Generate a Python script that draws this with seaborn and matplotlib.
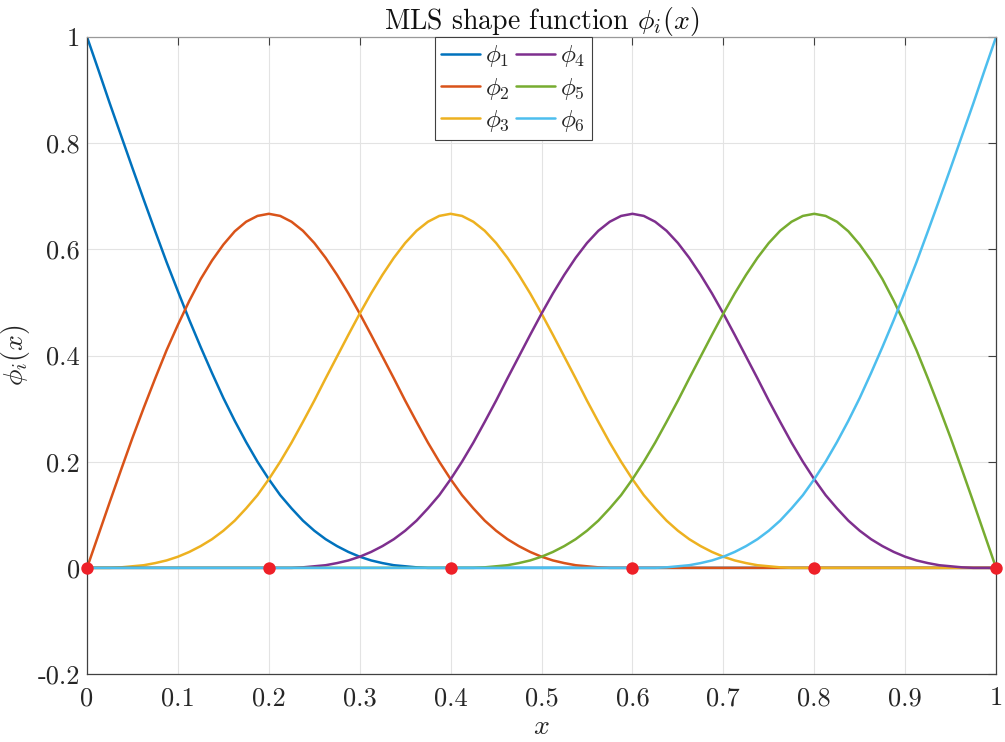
import numpy as np
import matplotlib
matplotlib.use("Agg")
import matplotlib.pyplot as plt
import seaborn as sns

# ============================================
# Data (step 0.0125 in x)
# ============================================
x = np.round(np.arange(81) * 0.0125, 4)

phi1 = [1.000, 0.938, 0.875, 0.814, 0.753, 0.693, 0.634, 0.576, 0.521, 0.467,
        0.416, 0.367, 0.320, 0.277, 0.237, 0.200, 0.167, 0.137, 0.112, 0.089,
        0.070, 0.054, 0.041, 0.030, 0.021, 0.014, 0.009, 0.005, 0.003, 0.001,
        0.000, 0.000, 0.000, 0.000, 0.000, 0.000, 0.000, 0.000, 0.000, 0.000,
        0.000, 0.000, 0.000, 0.000, 0.000, 0.000, 0.000, 0.000, 0.000, 0.000,
        0.000, 0.000, 0.000, 0.000, 0.000, 0.000, 0.000, 0.000, 0.000, 0.000,
        0.000, 0.000, 0.000, 0.000, 0.000, 0.000, 0.000, 0.000, 0.000, 0.000,
        0.000, 0.000, 0.000, 0.000, 0.000, 0.000, 0.000, 0.000, 0.000, 0.000,
        0.000]
phi2 = [0.000, 0.062, 0.124, 0.185, 0.245, 0.302, 0.357, 0.410, 0.458, 0.503,
        0.544, 0.579, 0.609, 0.634, 0.652, 0.663, 0.667, 0.663, 0.652, 0.635,
        0.612, 0.584, 0.552, 0.517, 0.479, 0.439, 0.398, 0.357, 0.315, 0.275,
        0.236, 0.200, 0.167, 0.137, 0.112, 0.089, 0.070, 0.054, 0.041, 0.030,
        0.021, 0.014, 0.009, 0.005, 0.003, 0.001, 0.000, 0.000, 0.000, 0.000,
        0.000, 0.000, 0.000, 0.000, 0.000, 0.000, 0.000, 0.000, 0.000, 0.000,
        0.000, 0.000, 0.000, 0.000, 0.000, 0.000, 0.000, 0.000, 0.000, 0.000,
        0.000, 0.000, 0.000, 0.000, 0.000, 0.000, 0.000, 0.000, 0.000, 0.000,
        0.000]
phi3 = [0.000, 0.000, 0.000, 0.001, 0.003, 0.005, 0.009, 0.014, 0.021, 0.030,
        0.041, 0.054, 0.070, 0.089, 0.112, 0.137, 0.167, 0.200, 0.236, 0.275,
        0.315, 0.357, 0.398, 0.439, 0.479, 0.517, 0.552, 0.584, 0.612, 0.635,
        0.652, 0.663, 0.667, 0.663, 0.652, 0.635, 0.612, 0.584, 0.552, 0.517,
        0.479, 0.439, 0.398, 0.357, 0.315, 0.275, 0.236, 0.200, 0.167, 0.137,
        0.112, 0.089, 0.070, 0.054, 0.041, 0.030, 0.021, 0.014, 0.009, 0.005,
        0.003, 0.001, 0.000, 0.000, 0.000, 0.000, 0.000, 0.000, 0.000, 0.000,
        0.000, 0.000, 0.000, 0.000, 0.000, 0.000, 0.000, 0.000, 0.000, 0.000,
        0.000]
phi4 = [0.000, 0.000, 0.000, 0.000, 0.000, 0.000, 0.000, 0.000, 0.000, 0.000,
        0.000, 0.000, 0.000, 0.000, 0.000, 0.000, 0.000, 0.000, 0.000, 0.001,
        0.003, 0.005, 0.009, 0.014, 0.021, 0.030, 0.041, 0.054, 0.070, 0.089,
        0.112, 0.137, 0.167, 0.200, 0.236, 0.275, 0.315, 0.357, 0.398, 0.439,
        0.479, 0.517, 0.552, 0.584, 0.612, 0.635, 0.652, 0.663, 0.667, 0.663,
        0.652, 0.635, 0.612, 0.584, 0.552, 0.517, 0.479, 0.439, 0.398, 0.357,
        0.315, 0.275, 0.236, 0.200, 0.167, 0.137, 0.112, 0.089, 0.070, 0.054,
        0.041, 0.030, 0.021, 0.014, 0.009, 0.005, 0.003, 0.001, 0.000, 0.000,
        0.000]
phi5 = [0.000, 0.000, 0.000, 0.000, 0.000, 0.000, 0.000, 0.000, 0.000, 0.000,
        0.000, 0.000, 0.000, 0.000, 0.000, 0.000, 0.000, 0.000, 0.000, 0.000,
        0.000, 0.000, 0.000, 0.000, 0.000, 0.000, 0.000, 0.000, 0.000, 0.000,
        0.000, 0.000, 0.000, 0.000, 0.000, 0.001, 0.003, 0.005, 0.009, 0.014,
        0.021, 0.030, 0.041, 0.054, 0.070, 0.089, 0.112, 0.137, 0.167, 0.200,
        0.236, 0.275, 0.315, 0.357, 0.398, 0.439, 0.479, 0.517, 0.552, 0.584,
        0.612, 0.635, 0.652, 0.663, 0.667, 0.663, 0.652, 0.634, 0.609, 0.579,
        0.544, 0.503, 0.458, 0.410, 0.357, 0.302, 0.245, 0.185, 0.124, 0.062,
        0.000]
phi6 = [0.000, 0.000, 0.000, 0.000, 0.000, 0.000, 0.000, 0.000, 0.000, 0.000,
        0.000, 0.000, 0.000, 0.000, 0.000, 0.000, 0.000, 0.000, 0.000, 0.000,
        0.000, 0.000, 0.000, 0.000, 0.000, 0.000, 0.000, 0.000, 0.000, 0.000,
        0.000, 0.000, 0.000, 0.000, 0.000, 0.000, 0.000, 0.000, 0.000, 0.000,
        0.000, 0.000, 0.000, 0.000, 0.000, 0.000, 0.000, 0.000, 0.000, 0.000,
        0.000, 0.001, 0.003, 0.005, 0.009, 0.014, 0.021, 0.030, 0.041, 0.054,
        0.070, 0.089, 0.112, 0.137, 0.167, 0.200, 0.237, 0.277, 0.320, 0.367,
        0.416, 0.467, 0.521, 0.576, 0.634, 0.693, 0.753, 0.814, 0.875, 0.938,
        1.000]

nodes_x = [0.0, 0.2, 0.4, 0.6, 0.8, 1.0]
nodes_y = [0.0, 0.0, 0.0, 0.0, 0.0, 0.0]

series = [phi1, phi2, phi3, phi4, phi5, phi6]
labels = [r"$\phi_1$", r"$\phi_2$", r"$\phi_3$", r"$\phi_4$", r"$\phi_5$", r"$\phi_6$"]
colors = ["#0072BD", "#D95319", "#EDB120", "#7E2F8E", "#77AC30", "#4DBEEE"]

xticks = [0.0, 0.1, 0.2, 0.3, 0.4, 0.5, 0.6, 0.7, 0.8, 0.9, 1.0]
xticklabels = ["0", "0.1", "0.2", "0.3", "0.4", "0.5", "0.6", "0.7", "0.8", "0.9", "1"]
yticks = [-0.2, 0.0, 0.2, 0.4, 0.6, 0.8, 1.0]
yticklabels = ["-0.2", "0", "0.2", "0.4", "0.6", "0.8", "1"]

# ============================================
# Style
# ============================================
sns.set_style("whitegrid")
plt.rcParams.update({
    "font.family": "cmr10",
    "mathtext.fontset": "cm",
    "axes.unicode_minus": False,
})

fig = plt.figure(figsize=(10.05, 7.42), dpi=100)
ax = fig.add_axes([0.0866, 0.0916, 0.9045, 0.8585])

# ============================================
# Plot
# ============================================
for vals, lab, col in zip(series, labels, colors):
    sns.lineplot(x=x, y=vals, color=col, linewidth=1.8, label=lab, ax=ax)

sns.scatterplot(x=nodes_x, y=nodes_y, color="#EE2028", s=80, linewidth=0,
                zorder=5, clip_on=False, legend=False, ax=ax)

ax.set_xlim(0, 1)
ax.set_ylim(-0.2, 1)
ax.set_xticks(xticks)
ax.set_xticklabels(xticklabels)
ax.set_yticks(yticks)
ax.set_yticklabels(yticklabels)

ax.tick_params(direction="in", top=True, right=True, length=6, width=0.8,
               color="#404040", labelcolor="#262626", labelsize=19)
ax.tick_params(axis="x", pad=9)
ax.tick_params(axis="y", pad=5)
ax.grid(True, color="#e3e3e3", linewidth=0.8)
for name, sp in ax.spines.items():
    sp.set_visible(True)
    sp.set_color("#999999" if name == "top" else "#404040")
    sp.set_linewidth(0.9)

ax.set_title(r"MLS shape function $\phi_i(x)$", fontsize=20, pad=6, color="#111111")
ax.set_xlabel(r"$x$", fontsize=20, color="#262626")
ax.set_ylabel(r"$\phi_i(x)$", fontsize=20, color="#262626")
ax.xaxis.set_label_coords(0.5, -0.063)
ax.yaxis.set_label_coords(-0.06, 0.5)

leg = ax.legend(ncol=2, loc="upper left", bbox_to_anchor=(0.383, 1.0),
                borderaxespad=0, fancybox=False, edgecolor="#404040",
                framealpha=1, fontsize=18, handlelength=1.55, handletextpad=0.2,
                columnspacing=0.25, labelspacing=0.25, borderpad=0.25)
leg.get_frame().set_linewidth(0.8)

plt.savefig("out.png", dpi=100)
plt.close()
